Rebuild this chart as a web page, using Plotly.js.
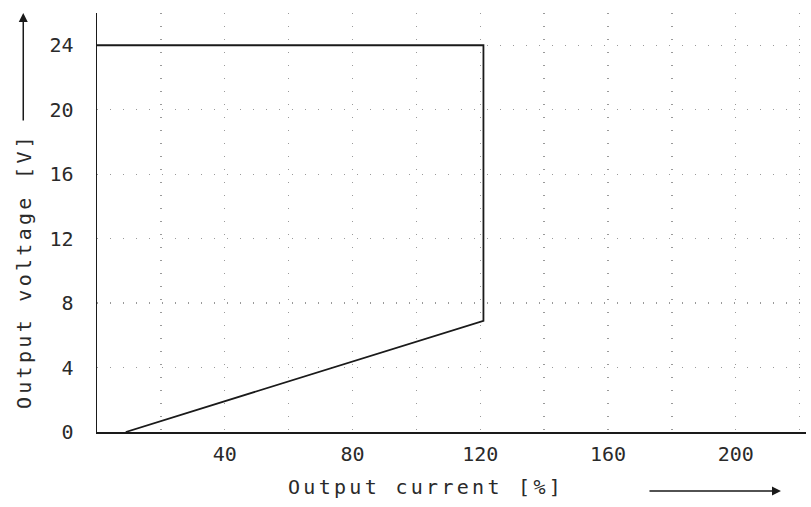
<!DOCTYPE html>
<html>
<head>
<meta charset="utf-8">
<script src="https://cdn.plot.ly/plotly-3.0.1.min.js"></script>
<style>
  html, body { margin: 0; padding: 0; background: #fff; }
  #chart { width: 811px; height: 507px; }
  .annotation-text { letter-spacing: 3.3px; }
</style>
</head>
<body>
<div id="chart"></div>
<script>
// Data
const currentPct = [9, 121, 121, 0];      // Output current [%]
const voltageV   = [0, 6.9, 24, 24];      // Output voltage [V]
const xTickVals  = [40, 80, 120, 160, 200];
const yTickVals  = [0, 4, 8, 12, 16, 20, 24];
const xTitleText = 'Output current [%]';
const yTitleText = 'Output voltage [V]';

const ink = '#1a1a1a';
const tickFont = { family: 'DejaVu Sans Mono, monospace', size: 20, color: '#2a2a2a' };
const titleFont = { family: 'DejaVu Sans Mono, monospace', size: 20, color: '#2a2a2a' };

const trace = {
  x: currentPct,
  y: voltageV,
  type: 'scatter',
  mode: 'lines',
  line: { color: ink, width: 1.8 },
  hoverinfo: 'skip',
  showlegend: false
};

const layout = {
  width: 811,
  height: 507,
  margin: { l: 97, r: 5, t: 13, b: 75 },
  paper_bgcolor: '#fff',
  plot_bgcolor: '#fff',
  xaxis: {
    range: [0, 222],
    tickvals: xTickVals,
    ticktext: xTickVals.map(String),
    ticks: '',
    ticklabelstandoff: 3,
    tickfont: tickFont,
    showline: true, linecolor: ink, linewidth: 1.5,
    zeroline: false,
    showgrid: false,
    minor: { dtick: 20, tick0: 0, showgrid: true, gridcolor: '#9a9a9a', gridwidth: 1.3, griddash: '1px,12px', ticks: '' }
  },
  yaxis: {
    range: [0, 26],
    tickvals: yTickVals,
    ticktext: yTickVals.map(String),
    ticks: '',
    ticklabelstandoff: 18,
    tickfont: tickFont,
    showline: true, linecolor: ink, linewidth: 1.5,
    zeroline: false,
    showgrid: true, gridcolor: '#9a9a9a', gridwidth: 1.3, griddash: '1px,12px'
  },
  annotations: [
    { xref: 'paper', yref: 'paper', x: 0.464, y: -0.131, text: xTitleText,
      showarrow: false, font: titleFont, xanchor: 'center', yanchor: 'middle' },
    { xref: 'paper', yref: 'paper', x: -0.103, y: 0.384, text: yTitleText, textangle: -90,
      showarrow: false, font: titleFont, xanchor: 'center', yanchor: 'middle' },
    { xref: 'paper', yref: 'paper', x: -0.104, y: 1.0, text: '', showarrow: true,
      axref: 'pixel', ayref: 'pixel', ax: 0, ay: 109,
      arrowhead: 2, arrowsize: 1.2, arrowwidth: 1.5, arrowcolor: ink },
    { xref: 'paper', yref: 'paper', x: 0.9647, y: -0.1408, text: '', showarrow: true,
      axref: 'pixel', ayref: 'pixel', ax: -133, ay: 0,
      arrowhead: 2, arrowsize: 1.2, arrowwidth: 1.5, arrowcolor: ink }
  ]
};

Plotly.newPlot('chart', [trace], layout, { staticPlot: true, displayModeBar: false });
</script>
</body>
</html>
